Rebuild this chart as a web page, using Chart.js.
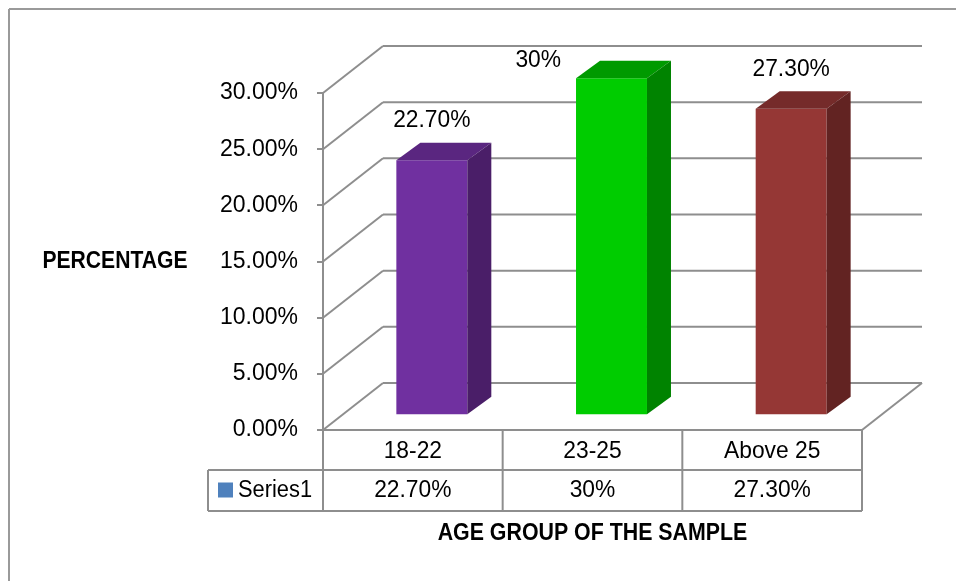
<!DOCTYPE html>
<html>
<head>
<meta charset="utf-8">
<script src="https://cdn.jsdelivr.net/npm/chart.js@4.4.1/dist/chart.umd.min.js"></script>
<style>
  html, body { margin: 0; padding: 0; background: #ffffff; }
  canvas { display: block; }
</style>
</head>
<body>
<canvas id="chart" width="956" height="581"></canvas>
<script>
// ---- data ----
const categories = ['18-22', '23-25', 'Above 25'];
const seriesName = 'Series1';
const values = [22.7, 30, 27.3];          // percent
const yMin = 0, yMax = 30, yStep = 5;

// ---- styles ----
const frontColors = ['#7030a0', '#00cc00', '#953735'];
const topColors   = ['#5a2680', '#009a00', '#752b2a'];
const sideColors  = ['#4a1e68', '#008300', '#622322'];
const legendSwatch = '#4f81bd';
const lineGray = '#8e8e8e';
const FONT = '"Liberation Sans", Arial, sans-serif';

// ---- 3D geometry ----
const WALL = { dx: 60, dy: -47 };        // back wall offset from the front plane
const FACE = { dx: 19, dy: -14.7 };      // bar front faces sit this far into the depth
const DEPTH = { dx: 24, dy: -17.5 };     // bar depth
const TABLE = { row1: 40, row2: 41, legendLeft: 208 };

function fmtPct(v) {
  return (Number.isInteger(v) ? String(v) : v.toFixed(2)) + '%';
}

function drawText(ctx, str, x, y, font, align, sx) {
  ctx.save();
  ctx.font = font;
  ctx.fillStyle = '#000000';
  ctx.textBaseline = 'middle';
  ctx.textAlign = align || 'center';
  ctx.translate(x, y);
  ctx.scale(sx || 1, 1);
  ctx.fillText(str, 0, 0);
  ctx.restore();
}

function line(ctx, x1, y1, x2, y2) {
  ctx.beginPath();
  ctx.moveTo(x1, y1);
  ctx.lineTo(x2, y2);
  ctx.stroke();
}

const box3d = {
  id: 'box3d',
  beforeDraw(chart) {
    const ctx = chart.ctx;
    ctx.save();
    ctx.strokeStyle = '#9a9a9a';
    ctx.lineWidth = 2;
    line(ctx, 9, 9, 9, chart.height);
    line(ctx, 9, 9, chart.width, 9);
    ctx.restore();
  },
  beforeDatasetsDraw(chart) {
    const ctx = chart.ctx, a = chart.chartArea, y = chart.scales.y;
    ctx.save();
    ctx.strokeStyle = lineGray;
    ctx.lineWidth = 2;
    // left wall diagonals and back wall gridlines
    y.ticks.forEach(t => {
      const py = y.getPixelForValue(t.value);
      line(ctx, a.left, py, a.left + WALL.dx, py + WALL.dy);
      line(ctx, a.left + WALL.dx, py + WALL.dy, a.right + WALL.dx, py + WALL.dy);
    });
    // floor
    line(ctx, a.left, a.bottom, a.right, a.bottom);
    line(ctx, a.right, a.bottom, a.right + WALL.dx, a.bottom + WALL.dy);
    ctx.restore();
    // bars are drawn set back into the depth
    ctx.save();
    ctx.translate(FACE.dx, FACE.dy);
  },
  afterDatasetsDraw(chart) {
    const ctx = chart.ctx;
    const meta = chart.getDatasetMeta(0);
    meta.data.forEach((bar, i) => {
      const l = bar.x - bar.width / 2, r = bar.x + bar.width / 2;
      const t = bar.y, b = bar.base;
      ctx.fillStyle = topColors[i];
      ctx.beginPath();
      ctx.moveTo(l, t);
      ctx.lineTo(l + DEPTH.dx, t + DEPTH.dy);
      ctx.lineTo(r + DEPTH.dx, t + DEPTH.dy);
      ctx.lineTo(r, t);
      ctx.closePath();
      ctx.fill();
      ctx.fillStyle = sideColors[i];
      ctx.beginPath();
      ctx.moveTo(r, t);
      ctx.lineTo(r + DEPTH.dx, t + DEPTH.dy);
      ctx.lineTo(r + DEPTH.dx, b + DEPTH.dy);
      ctx.lineTo(r, b);
      ctx.closePath();
      ctx.fill();
    });
    ctx.restore();

    // value labels above the bars
    const valFont = '24px ' + FONT;
    meta.data.forEach((bar, i) => {
      const cx = bar.x + FACE.dx;
      const backTop = bar.y + FACE.dy + DEPTH.dy;
      const ly = backTop - 22;
      if (ly < 45) {
        // no room above: set the label beside the bar
        drawText(ctx, fmtPct(values[i]), bar.x - bar.width / 2 + FACE.dx - 15, backTop, valFont, 'right', 0.95);
      } else {
        drawText(ctx, fmtPct(values[i]), cx, ly, valFont, 'center', 0.95);
      }
    });
  },
  afterDraw(chart) {
    const ctx = chart.ctx, a = chart.chartArea, x = chart.scales.x;
    const y0 = a.bottom, y1 = y0 + TABLE.row1, y2 = y1 + TABLE.row2;
    const n = categories.length;
    const colW = (a.right - a.left) / n;
    ctx.save();
    ctx.strokeStyle = lineGray;
    ctx.lineWidth = 2;
    line(ctx, TABLE.legendLeft, y1, a.right, y1);
    line(ctx, TABLE.legendLeft, y2, a.right, y2);
    line(ctx, TABLE.legendLeft, y1, TABLE.legendLeft, y2);
    for (let i = 0; i <= n; i++) {
      const px = a.left + colW * i;
      line(ctx, px, y0, px, y2);
    }
    ctx.restore();

    const cellFont = '24px ' + FONT;
    categories.forEach((c, i) => {
      const cx = x.getPixelForValue(i);
      drawText(ctx, c, cx, (y0 + y1) / 2 + 1, cellFont, 'center', 0.95);
      drawText(ctx, fmtPct(values[i]), cx, (y1 + y2) / 2, cellFont, 'center', 0.95);
    });
    // legend key
    ctx.fillStyle = legendSwatch;
    ctx.fillRect(TABLE.legendLeft + 10, (y1 + y2) / 2 - 8, 15, 15);
    drawText(ctx, seriesName, TABLE.legendLeft + 30, (y1 + y2) / 2, '23px ' + FONT, 'left', 0.95);

    // axis titles
    const titleFont = 'bold 24px ' + FONT;
    drawText(ctx, 'PERCENTAGE', 115, chart.scales.y.getPixelForValue(15), titleFont, 'center', 0.88);
    drawText(ctx, 'AGE GROUP OF THE SAMPLE', (a.left + a.right) / 2, y2 + 22, titleFont, 'center', 0.89);
  }
};

new Chart(document.getElementById('chart'), {
  type: 'bar',
  data: {
    labels: categories,
    datasets: [{
      label: seriesName,
      data: values,
      backgroundColor: frontColors,
      borderWidth: 0,
      categoryPercentage: 1,
      barPercentage: 0.395,
      clip: false
    }]
  },
  options: {
    responsive: false,
    animation: false,
    events: [],
    layout: { padding: { left: 0, top: 93, right: 94, bottom: 151 } },
    plugins: { legend: { display: false }, tooltip: { enabled: false } },
    scales: {
      x: { display: false },
      y: {
        min: yMin,
        max: yMax,
        afterFit(scale) { scale.width = 323; },
        ticks: {
          stepSize: yStep,
          callback: v => v.toFixed(2) + '%',
          color: '#000000',
          padding: 19,
          font: { family: FONT, size: 23 }
        },
        grid: { drawOnChartArea: false, tickLength: 6, color: lineGray, lineWidth: 2 },
        border: { color: lineGray, width: 2 }
      }
    }
  },
  plugins: [box3d]
});
</script>
</body>
</html>
